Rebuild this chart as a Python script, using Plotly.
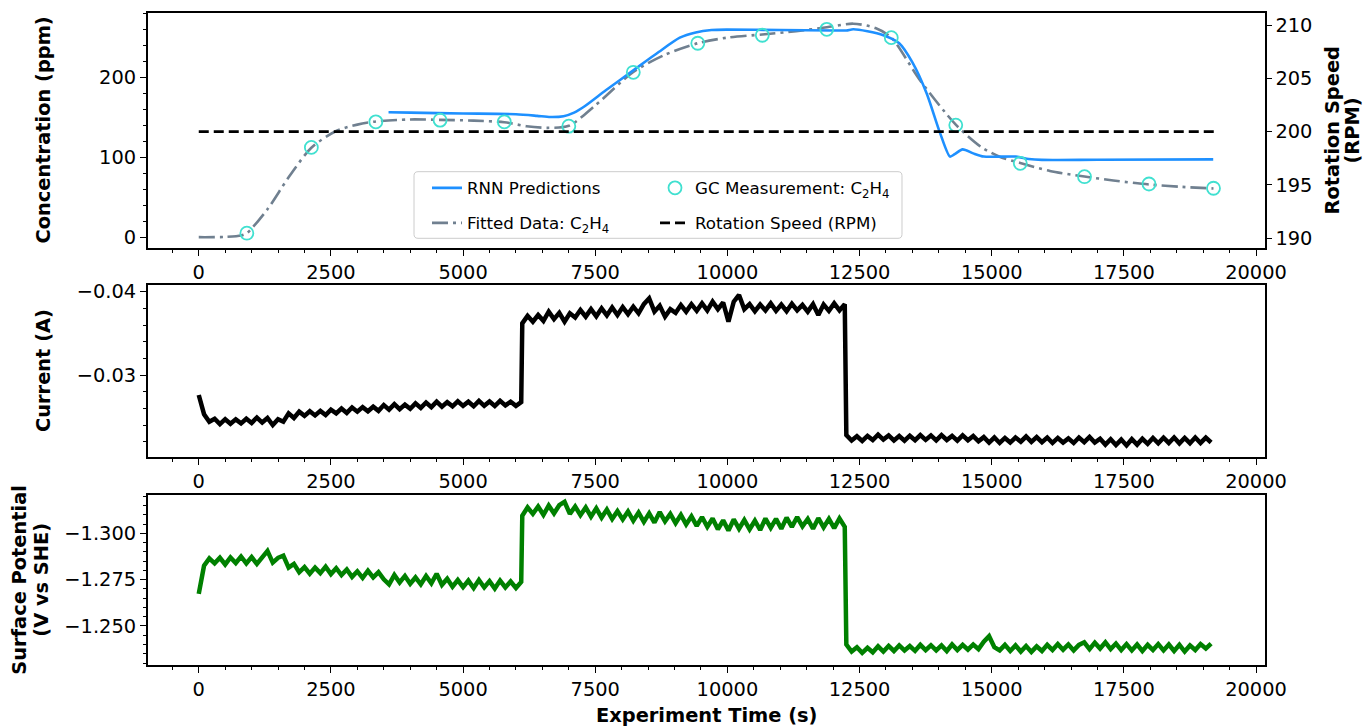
import plotly.graph_objects as go

W, H = 1364, 726

# ---------------- Top panel: concentration ----------------
gc_time = [910, 2130, 3350, 4565, 5780, 7000, 8220, 9440, 10660, 11880,
           13100, 14320, 15540, 16755, 17975, 19195]
gc_ppm = [5.0, 112.5, 144.5, 146.6, 144.5, 139.1, 206.6, 243.0, 253.0, 260.4,
          250.0, 140.4, 92.5, 75.8, 66.6, 61.3]

fit_time = [0, 500, 800, 910, 1300, 1700, 2130, 2600, 3000, 3350, 4000, 4565,
            5200, 5780, 6200, 6600, 7000, 7500, 8220, 8800, 9440, 10000, 10660,
            11300, 11880, 12380, 12800, 13100, 13640, 14320, 14800, 15160,
            15540, 16100, 16755, 17300, 17975, 18600, 19195]
fit_ppm = [0, 0.3, 2, 5, 35, 75, 112, 133, 141, 145, 147.5, 147, 146, 144,
           139, 137, 139.5, 165, 207, 228, 243, 250, 254, 258, 263, 267.5, 262,
           250, 197, 141, 113, 100.5, 93, 83, 76, 71, 66, 63, 61]

rnn_time = [3590, 4000, 5000, 6000, 6400, 6650, 6900, 7100, 7300, 7700, 8220,
            8700, 9100, 9400, 9700, 10000, 11000, 12000, 12250, 12380, 12650,
            12950, 13250, 13500, 13770, 14020, 14210, 14300, 14450, 14650,
            14850, 15450, 15700, 15950, 17000, 19190]
rnn_ppm = [156.5, 156, 155, 154, 152, 150.5, 151.5, 156, 164, 184, 209, 232,
           250, 256.5, 259.5, 260, 259.5, 259, 259, 260.5, 258, 253, 243, 219,
           180, 131, 101, 104, 110, 105, 101, 101, 98, 96.8, 97, 97.5]

rpm_time = [0, 19200]
rpm_value = [200, 200]

# ---------------- Middle panel: current (A) ----------------
current_seg1 = [  # 0 - 6100 s, every 100 s
    -0.02760, -0.02530, -0.02440, -0.02475, -0.02410, -0.02470, -0.02415,
    -0.02468, -0.02420, -0.02475, -0.02425, -0.02490, -0.02430, -0.02485,
    -0.02400, -0.02470, -0.02440, -0.02540, -0.02485, -0.02560, -0.02510,
    -0.02565, -0.02515, -0.02570, -0.02520, -0.02585, -0.02540, -0.02598,
    -0.02545, -0.02610, -0.02560, -0.02615, -0.02565, -0.02620, -0.02570,
    -0.02640, -0.02585, -0.02650, -0.02590, -0.02645, -0.02595, -0.02660,
    -0.02605, -0.02670, -0.02615, -0.02680, -0.02620, -0.02675, -0.02625,
    -0.02685, -0.02630, -0.02680, -0.02625, -0.02690, -0.02630, -0.02682,
    -0.02628, -0.02690, -0.02635, -0.02680, -0.02630, -0.02675]
current_seg2 = [  # 6120 - 12220 s, every 100 s
    -0.03620, -0.03710, -0.03640, -0.03720, -0.03650, -0.03760, -0.03670,
    -0.03745, -0.03640, -0.03740, -0.03690, -0.03780, -0.03700, -0.03790,
    -0.03705, -0.03800, -0.03715, -0.03810, -0.03720, -0.03815, -0.03730,
    -0.03820, -0.03740, -0.03850, -0.03920, -0.03760, -0.03830, -0.03700,
    -0.03790, -0.03745, -0.03840, -0.03760, -0.03850, -0.03770, -0.03860,
    -0.03775, -0.03880, -0.03790, -0.03870, -0.03640, -0.03880, -0.03960,
    -0.03790, -0.03850, -0.03765, -0.03845, -0.03775, -0.03860, -0.03770,
    -0.03845, -0.03765, -0.03855, -0.03775, -0.03840, -0.03760, -0.03850,
    -0.03720, -0.03845, -0.03770, -0.03860, -0.03775, -0.03850]
current_seg3 = [  # 12250 - 19150 s, every 100 s
    -0.02280, -0.02215, -0.02265, -0.02210, -0.02270, -0.02220, -0.02285,
    -0.02225, -0.02275, -0.02215, -0.02268, -0.02212, -0.02272, -0.02218,
    -0.02280, -0.02222, -0.02275, -0.02215, -0.02278, -0.02220, -0.02270,
    -0.02212, -0.02275, -0.02218, -0.02268, -0.02205, -0.02255, -0.02190,
    -0.02250, -0.02185, -0.02245, -0.02190, -0.02250, -0.02200, -0.02262,
    -0.02198, -0.02255, -0.02195, -0.02250, -0.02185, -0.02245, -0.02190,
    -0.02240, -0.02185, -0.02250, -0.02195, -0.02258, -0.02190, -0.02235,
    -0.02165, -0.02230, -0.02160, -0.02225, -0.02155, -0.02230, -0.02165,
    -0.02235, -0.02175, -0.02245, -0.02180, -0.02248, -0.02185, -0.02250,
    -0.02180, -0.02245, -0.02182, -0.02250, -0.02185, -0.02248, -0.02190]

# ---------------- Bottom panel: surface potential (V vs SHE) ----------------
potential_seg1 = [  # 0 - 6100 s
    -1.2673, -1.2825, -1.2865, -1.2838, -1.2868, -1.2832, -1.2870, -1.2840,
    -1.2875, -1.2838, -1.2872, -1.2835, -1.2870, -1.2905, -1.2842, -1.2868,
    -1.2880, -1.2815, -1.2835, -1.2790, -1.2818, -1.2782, -1.2815, -1.2785,
    -1.2820, -1.2780, -1.2812, -1.2775, -1.2805, -1.2765, -1.2795, -1.2760,
    -1.2798, -1.2762, -1.2790, -1.2752, -1.2725, -1.2775, -1.2735, -1.2770,
    -1.2728, -1.2762, -1.2725, -1.2770, -1.2730, -1.2782, -1.2722, -1.2755,
    -1.2712, -1.2748, -1.2710, -1.2745, -1.2705, -1.2748, -1.2708, -1.2742,
    -1.2702, -1.2745, -1.2708, -1.2740, -1.2705, -1.2738]
potential_seg2 = [  # 6120 - 12220 s
    -1.3095, -1.3140, -1.3105, -1.3145, -1.3100, -1.3150, -1.3108, -1.3152,
    -1.3170, -1.3105, -1.3145, -1.3098, -1.3140, -1.3090, -1.3135, -1.3085,
    -1.3128, -1.3078, -1.3120, -1.3075, -1.3118, -1.3068, -1.3112, -1.3062,
    -1.3108, -1.3058, -1.3115, -1.3065, -1.3105, -1.3055, -1.3100, -1.3048,
    -1.3092, -1.3040, -1.3088, -1.3035, -1.3080, -1.3022, -1.3070, -1.3015,
    -1.3075, -1.3025, -1.3072, -1.3022, -1.3068, -1.3018, -1.3080, -1.3030,
    -1.3078, -1.3025, -1.3085, -1.3035, -1.3088, -1.3038, -1.3078, -1.3025,
    -1.3082, -1.3032, -1.3078, -1.3028, -1.3080, -1.3035]
potential_seg3 = [  # 12250 - 19150 s
    -1.2400, -1.2362, -1.2385, -1.2355, -1.2382, -1.2358, -1.2390, -1.2362,
    -1.2392, -1.2365, -1.2395, -1.2368, -1.2392, -1.2366, -1.2398, -1.2370,
    -1.2396, -1.2368, -1.2395, -1.2365, -1.2400, -1.2370, -1.2398, -1.2372,
    -1.2400, -1.2375, -1.2415, -1.2445, -1.2385, -1.2368, -1.2398, -1.2365,
    -1.2395, -1.2362, -1.2392, -1.2360, -1.2390, -1.2365, -1.2398, -1.2370,
    -1.2402, -1.2372, -1.2400, -1.2368, -1.2398, -1.2412, -1.2375, -1.2410,
    -1.2378, -1.2412, -1.2375, -1.2405, -1.2370, -1.2402, -1.2368, -1.2400,
    -1.2365, -1.2398, -1.2370, -1.2402, -1.2368, -1.2400, -1.2365, -1.2398,
    -1.2362, -1.2395, -1.2370, -1.2402, -1.2378, -1.2405]

seg_start = [0, 6120, 12250]
seg_step = 100

# tick labels
x_tickvals = [0, 2500, 5000, 7500, 10000, 12500, 15000, 17500, 20000]
x_ticktext = ["0", "2500", "5000", "7500", "10000", "12500", "15000", "17500", "20000"]
conc_tickvals = [0, 100, 200]
conc_ticktext = ["0", "100", "200"]
rpm_tickvals = [190, 195, 200, 205, 210]
rpm_ticktext = ["190", "195", "200", "205", "210"]
cur_tickvals = [-0.04, -0.03]
cur_ticktext = ["\u22120.04", "\u22120.03"]
pot_tickvals = [-1.300, -1.275, -1.250]
pot_ticktext = ["\u22121.300", "\u22121.275", "\u22121.250"]


def seg_times(start, values):
    return [start + seg_step * i for i in range(len(values))]


cur_t, cur_v, pot_t, pot_v = [], [], [], []
for s, seg in zip(seg_start, [current_seg1, current_seg2, current_seg3]):
    cur_t += seg_times(s, seg)
    cur_v += seg
for s, seg in zip(seg_start, [potential_seg1, potential_seg2, potential_seg3]):
    pot_t += seg_times(s, seg)
    pot_v += seg

FONT = "DejaVu Sans"
TICK_FS = 19.4
LEG_FS = 16.7

fig = go.Figure()

fig.add_trace(go.Scatter(x=fit_time, y=fit_ppm, mode="lines", name="Fitted Data: C<sub>2</sub>H<sub>4</sub>",
                         line=dict(color="#708090", width=2.6, dash="16px,5px,3px,5px", shape="spline", smoothing=0.8),
                         xaxis="x", yaxis="y", legend="legend3"))
fig.add_trace(go.Scatter(x=rnn_time, y=rnn_ppm, mode="lines", name="RNN Predictions",
                         line=dict(color="#1E90FF", width=2.6, shape="spline", smoothing=0.7),
                         xaxis="x", yaxis="y", legend="legend"))
fig.add_trace(go.Scatter(x=gc_time, y=gc_ppm, mode="markers", name="GC Measurement: C<sub>2</sub>H<sub>4</sub>",
                         marker=dict(symbol="circle-open", size=13, color="#40E0D0", line=dict(width=1.8)),
                         xaxis="x", yaxis="y", legend="legend2"))
fig.add_trace(go.Scatter(x=rpm_time, y=rpm_value, mode="lines", name="Rotation Speed (RPM)",
                         line=dict(color="black", width=2.6, dash="10px,5px"),
                         xaxis="x", yaxis="y2", legend="legend4"))
fig.add_trace(go.Scatter(x=cur_t, y=cur_v, mode="lines", showlegend=False,
                         line=dict(color="black", width=4.5), xaxis="x2", yaxis="y3"))
fig.add_trace(go.Scatter(x=pot_t, y=pot_v, mode="lines", showlegend=False,
                         line=dict(color="#008000", width=4.5), xaxis="x3", yaxis="y4"))

xdom = [148 / W, 1264.5 / W]
top_dom = [1 - 247.7 / H, 1 - 13.3 / H]
mid_dom = [1 - 456.7 / H, 1 - 285 / H]
bot_dom = [1 - 664.5 / H, 1 - 495 / H]

tickfont = dict(family=FONT, size=TICK_FS, color="black")
frame = dict(showline=True, linewidth=2, linecolor="black", mirror=True,
             showgrid=False, zeroline=False, ticks="outside", ticklen=6,
             tickwidth=1.3, tickcolor="black", tickfont=tickfont, automargin=False)


def minor(dtick):
    return dict(ticks="outside", ticklen=3.5, tickwidth=1, tickcolor="black",
                tickmode="linear", tick0=0, dtick=dtick, showgrid=False)


xcommon = dict(range=[-960, 20160], tickmode="array", tickvals=x_tickvals,
               ticktext=x_ticktext, minor=minor(500), **frame)

fig.update_layout(
    width=W, height=H, margin=dict(l=0, r=0, t=0, b=0, pad=0, autoexpand=False),
    paper_bgcolor="white", plot_bgcolor="white",
    font=dict(family=FONT, color="black"),
    xaxis=dict(domain=xdom, anchor="y", **xcommon),
    xaxis2=dict(domain=xdom, anchor="y3", **xcommon),
    xaxis3=dict(domain=xdom, anchor="y4", **xcommon),
    yaxis=dict(domain=top_dom, anchor="x", range=[-13.2, 280.5], tickmode="array",
               tickvals=conc_tickvals, ticktext=conc_ticktext, minor=minor(20), **frame),
    yaxis2=dict(overlaying="y", side="right", anchor="x", range=[189.12, 211.1],
                tickmode="array", tickvals=rpm_tickvals, ticktext=rpm_ticktext,
                showgrid=False, zeroline=False, showline=False, ticks="outside",
                ticklen=6, tickwidth=1.3, tickcolor="black", tickfont=tickfont, automargin=False),
    yaxis3=dict(domain=mid_dom, anchor="x2", range=[-0.0202, -0.0408], tickmode="array",
                tickvals=cur_tickvals, ticktext=cur_ticktext, minor=minor(0.002), **frame),
    yaxis4=dict(domain=bot_dom, anchor="x3", range=[-1.2292, -1.3207], tickmode="array",
                tickvals=pot_tickvals, ticktext=pot_ticktext, minor=minor(0.005), **frame),
    showlegend=True,
)

leg_common = dict(bgcolor="rgba(0,0,0,0)", borderwidth=0, xanchor="left", yanchor="middle",
                  font=dict(family=FONT, size=LEG_FS, color="black"), orientation="v")
fig.update_layout(
    legend=dict(x=427 / W, y=1 - 188 / H, **leg_common),
    legend2=dict(x=655 / W, y=1 - 188 / H, **leg_common),
    legend3=dict(x=427 / W, y=1 - 223 / H, **leg_common),
    legend4=dict(x=655 / W, y=1 - 223 / H, **leg_common),
)


def px(xp, yp):
    return f"{xp / W:.5f},{1 - yp / H:.5f}"


def rounded_rect(x0, y0, x1, y1, r):
    return (f"M{px(x0 + r, y0)} L{px(x1 - r, y0)} Q{px(x1, y0)} {px(x1, y0 + r)} "
            f"L{px(x1, y1 - r)} Q{px(x1, y1)} {px(x1 - r, y1)} L{px(x0 + r, y1)} "
            f"Q{px(x0, y1)} {px(x0, y1 - r)} L{px(x0, y0 + r)} Q{px(x0, y0)} {px(x0 + r, y0)} Z")


fig.add_shape(type="path", xref="paper", yref="paper", path=rounded_rect(414, 171.7, 902, 238.3, 4),
              line=dict(color="#cccccc", width=1), fillcolor="rgba(255,255,255,0.8)", layer="above")

title_font = dict(family=FONT, size=TICK_FS, color="black", weight="bold")
ann = [
    dict(text="Concentration (ppm)", x=43 / W, y=1 - 130.5 / H, textangle=-90),
    dict(text="Rotation Speed", x=1332 / W, y=1 - 130.5 / H, textangle=-90),
    dict(text="(RPM)", x=1352 / W, y=1 - 130.5 / H, textangle=-90),
    dict(text="Current (A)", x=43 / W, y=1 - 371 / H, textangle=-90),
    dict(text="Surface Potential", x=20 / W, y=1 - 579.7 / H, textangle=-90),
    dict(text="(V vs SHE)", x=42 / W, y=1 - 579.7 / H, textangle=-90),
    dict(text="Experiment Time (s)", x=706 / W, y=1 - 715 / H, textangle=0),
]
for a in ann:
    fig.add_annotation(xref="paper", yref="paper", xanchor="center", yanchor="middle",
                       showarrow=False, font=title_font, **a)

fig.write_html("out.html")
